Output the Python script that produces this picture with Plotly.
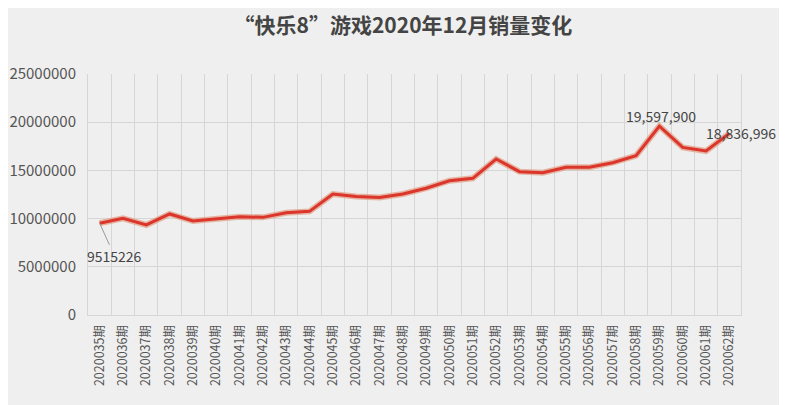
import plotly.graph_objects as go

# 期号
qihao = [f"20200{n}期" for n in range(35, 63)]

# 每期销量（元），读图估计
xiaoliang = [
    9515226, 10030000, 9340000, 10480000, 9750000, 9960000, 10200000,
    10130000, 10600000, 10750000, 12550000, 12300000, 12200000, 12550000,
    13150000, 13930000, 14180000, 16180000, 14870000, 14760000, 15320000,
    15320000, 15800000, 16530000, 19597900, 17390000, 17010000, 18836996,
]

fig = go.Figure()

# 底层浅色描边，模拟原图的阴影效果
fig.add_trace(go.Scatter(
    x=qihao, y=xiaoliang, mode="lines",
    line=dict(color="rgba(225,160,135,0.75)", width=6),
    hoverinfo="skip", showlegend=False,
))
fig.add_trace(go.Scatter(
    x=qihao, y=xiaoliang, mode="lines",
    line=dict(color="#dc352c", width=3),
    showlegend=False,
))

fig.add_annotation(
    x=qihao[0], y=xiaoliang[0], text=str(xiaoliang[0]),
    showarrow=True, arrowhead=0, arrowwidth=1, arrowcolor="#999999",
    ax=15, ay=33, font=dict(size=14, color="#444444"),
)
i_max = xiaoliang.index(max(xiaoliang))
fig.add_annotation(
    x=qihao[i_max], y=xiaoliang[i_max], text=f"{xiaoliang[i_max]:,}",
    showarrow=False, yshift=10, xshift=2, font=dict(size=14, color="#444444"),
)
fig.add_annotation(
    x=qihao[-1], y=xiaoliang[-1], text=f"{xiaoliang[-1]:,}",
    showarrow=False, xshift=12, font=dict(size=14, color="#444444"),
)

# 页面本身有 8px 的边距，所以图尺寸和边距都相应减掉
fig.update_layout(
    title=dict(
        text="<b>“快乐8”游戏2020年12月销量变化</b>",
        x=0.507, xanchor="center", y=0.955, yanchor="middle",
        font=dict(family="Noto Sans CJK SC", size=21, color="#444444"),
    ),
    width=779, height=397,
    margin=dict(l=80, r=46, t=66, b=90, autoexpand=False),
    paper_bgcolor="#efefef",
    plot_bgcolor="#efefef",
    font=dict(family="Noto Sans CJK SC", color="#555555"),
)
fig.update_xaxes(
    type="category", range=[-0.5, len(qihao) - 0.5],
    tickangle=-90, tickson="boundaries", automargin=False,
    showgrid=True, gridcolor="#d6d6d6", ticks="",
    tickfont=dict(size=12.5, color="#555555"), ticklabelstandoff=4,
    showline=True, linecolor="#d6d6d6",
)
fig.update_yaxes(
    range=[0, 25000000], dtick=5000000, tickformat="d", automargin=False,
    showgrid=True, gridcolor="#d6d6d6", zeroline=False,
    tickfont=dict(size=15, color="#555555"), ticklabelstandoff=8,
    showline=True, linecolor="#d6d6d6", mirror=True,
)

fig.write_html("out.html")
